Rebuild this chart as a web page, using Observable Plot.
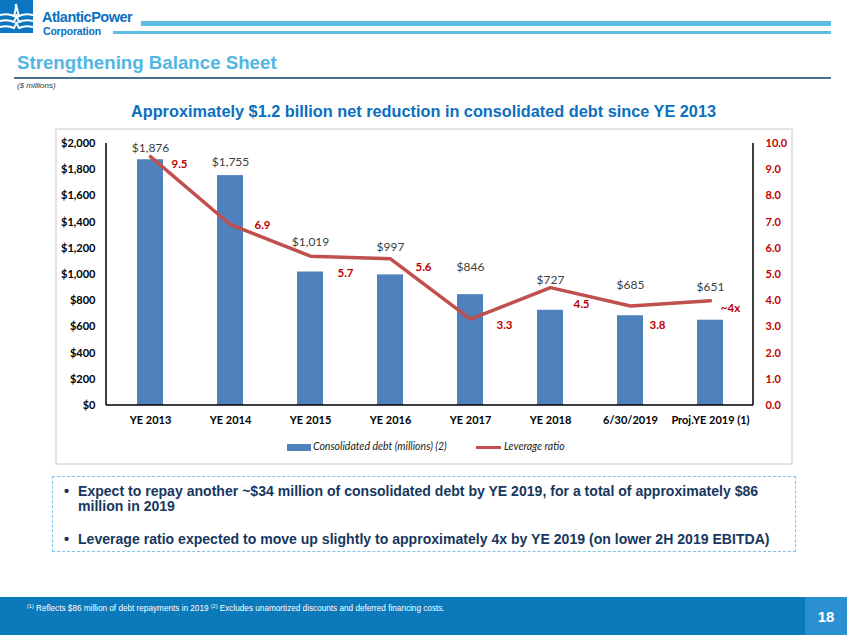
<!DOCTYPE html>
<html><head><meta charset="utf-8">
<script src="https://cdn.jsdelivr.net/npm/d3@7"></script>
<script src="https://cdn.jsdelivr.net/npm/@observablehq/plot@0.6"></script>
<style>
body{margin:0;background:#fff;}
#page{position:relative;width:847px;height:635px;overflow:hidden;font-family:"Liberation Sans",Arial,sans-serif;background:#fff;}
.abs{position:absolute;white-space:nowrap;}
#title{left:17px;top:52px;font-size:18.7px;font-weight:bold;color:#52b6e2;}
#rule{left:14px;top:77px;width:817px;height:1.5px;background:#4f6f8f;}
#units{left:17px;top:81px;font-size:8px;font-style:italic;color:#333;}
#ctitle{left:0;width:847px;top:102px;text-align:center;font-size:16.3px;font-weight:bold;color:#0b6fbf;}
#cbox{left:55px;top:128px;width:734px;height:333px;border:2px solid #e3e3e3;}
#chart{position:absolute;left:55px;top:128px;}
.leg{font-family:Lato,sans-serif;font-style:italic;font-size:10.5px;color:#222;top:440px;}
#bbox{left:52px;top:476px;width:742px;height:74px;border:1px dashed #7cc3e6;}
.bul{font-weight:bold;font-size:14.5px;color:#17375e;line-height:15px;transform-origin:0 0;}
.sq{transform:scaleX(0.97);}
#footer{left:0;top:597px;width:847px;height:38px;background:#0c79bb;}
#pgbox{left:805px;top:597px;width:42px;height:38px;background:#2a90cf;}
#fnote{left:27px;top:603px;font-size:8.2px;color:#fff;}
#fnote sup{font-size:5.5px;vertical-align:3px;}
#pgnum{left:805px;width:42px;text-align:center;top:608px;font-size:15px;font-weight:bold;color:#fff;}
</style></head><body>
<div id="page">
  <svg class="abs" style="left:0;top:0" width="34" height="34">
    <rect x="0" y="0" width="33" height="33" fill="#0b77c2"/>
    <path d="M0 15 Q8 13 14 16 Q16 10 16 4 Q17 10 19 16 Q25 13 33 15" fill="none" stroke="#fff" stroke-width="2"/>
    <path d="M0 21 Q8 19 14 22 Q16 18 16.5 14 Q17 18 19 22 Q25 19 33 21" fill="none" stroke="#fff" stroke-width="2"/>
    <path d="M0 27 Q8 25 14 28 Q16 25 16.5 22 Q17 25 19 28 Q25 25 33 27" fill="none" stroke="#fff" stroke-width="2"/>
  </svg>
  <div class="abs" style="left:42px;top:10px;font-size:14.5px;line-height:14px;font-weight:bold;color:#0b6fbf;letter-spacing:-0.5px;">AtlanticPower</div>
  <div class="abs" style="left:43px;top:26px;font-size:10.5px;line-height:10.5px;font-weight:bold;color:#0b6fbf;letter-spacing:-0.2px;">Corporation</div>
  <div class="abs" style="left:141px;top:21px;width:690px;height:5px;background:#5cbde5;"></div>
  <div class="abs" style="left:113px;top:31px;width:718px;height:3px;background:#5cbde5;"></div>
  <div id="title" class="abs">Strengthening Balance Sheet</div>
  <div id="rule" class="abs"></div>
  <div id="units" class="abs">($ millions)</div>
  <div id="ctitle" class="abs">Approximately $1.2 billion net reduction in consolidated debt since YE 2013</div>
  <div id="cbox" class="abs"></div>
  <div id="chart"></div>
  <div class="abs" style="left:287px;top:444px;width:24px;height:7px;background:#4f81bd;"></div>
  <div class="abs leg" style="left:313px;">Consolidated debt (millions) (2)</div>
  <div class="abs" style="left:476px;top:446px;width:25px;height:3px;background:#c0504d;"></div>
  <div class="abs leg" style="left:504px;">Leverage ratio</div>
  <div id="bbox" class="abs"></div>
  <div class="abs bul" style="left:64px;top:484px;">•</div>
  <div class="abs bul sq" style="left:78px;top:484px;">Expect to repay another ~$34 million of consolidated debt by YE 2019, for a total of approximately $86<br>million in 2019</div>
  <div class="abs bul" style="left:64px;top:532px;">•</div>
  <div class="abs bul sq" style="left:78px;top:532px;">Leverage ratio expected to move up slightly to approximately 4x by YE 2019 (on lower 2H 2019 EBITDA)</div>
  <div id="footer" class="abs"></div>
  <div id="pgbox" class="abs"></div>
  <div id="fnote" class="abs"><sup>(1)</sup> Reflects $86 million of debt repayments in 2019 <sup>(2)</sup> Excludes unamortized discounts and deferred financing costs.</div>
  <div id="pgnum" class="abs">18</div>
</div>
<script>
const categories = ["YE 2013", "YE 2014", "YE 2015", "YE 2016", "YE 2017", "YE 2018", "6/30/2019", "Proj.YE 2019 (1)"];
const debt = [1876, 1755, 1019, 997, 846, 727, 685, 651];
const leverage = [9.5, 6.9, 5.7, 5.6, 3.3, 4.5, 3.8, 4.0];
const leverageLabels = ["9.5", "6.9", "5.7", "5.6", "3.3", "4.5", "3.8", "~4x"];
const debtTicks = [0, 200, 400, 600, 800, 1000, 1200, 1400, 1600, 1800, 2000];

// label placement (pixels), like the hand-placed labels in the original
const debtLabelDy = [-12, -13, -30, -28, -28, -30, -31, -33];
const ratioLabelDx = [29, 32, 35, 33, 34, 31, 27, 20];
const ratioLabelDy = [8, 1, 17, 9, 6, 17, 19, 8];

const ratioScale = 200; // right axis 0–10 maps onto left axis 0–2000
const rows = categories.map((c, i) => ({cat: c, debt: debt[i], lev: leverage[i], levY: leverage[i] * ratioScale, levLabel: leverageLabels[i], debtLabel: "$" + d3.format(",")(debt[i])}));

const W = 736, H = 305;
const edges = (index, scales, values, dims) => {
  const g = d3.create("svg:g").attr("stroke", "#000").attr("stroke-width", 1.5);
  const l = dims.marginLeft, r = dims.width - dims.marginRight, t = dims.marginTop, b = dims.height - dims.marginBottom;
  g.append("line").attr("x1", l).attr("x2", l).attr("y1", t).attr("y2", b);
  g.append("line").attr("x1", r).attr("x2", r).attr("y1", t).attr("y2", b);
  g.append("line").attr("x1", l).attr("x2", r).attr("y1", b).attr("y2", b);
  return g.node();
};

const marks = [
  Plot.barY(rows, {x: "cat", y: "debt", fill: "#4f81bd"}),
  Plot.line(rows, {x: "cat", y: "levY", stroke: "#c0504d", strokeWidth: 3.5}),
  edges,
  Plot.axisY({anchor: "left", ticks: debtTicks, tickFormat: d => "$" + d3.format(",")(d), tickSize: 0, tickPadding: 11, fontWeight: "bold", fontSize: 11, label: null}),
  Plot.axisY({anchor: "right", ticks: debtTicks, tickFormat: d => (d / ratioScale).toFixed(1), tickSize: 0, tickPadding: 12, fontWeight: "bold", fontSize: 11, color: "#c00000", label: null}),
  Plot.axisX({tickSize: 0, tickPadding: 11, fontWeight: "bold", fontSize: 11, label: null})
];
rows.forEach((d, i) => {
  marks.push(Plot.text([d], {x: "cat", y: "debt", text: "debtLabel", dy: debtLabelDy[i], fill: "#404040", fontSize: 12}));
  marks.push(Plot.text([d], {x: "cat", y: "levY", text: "levLabel", dx: ratioLabelDx[i], dy: ratioLabelDy[i], fill: "#c00000", fontSize: 11.5, fontWeight: "bold"}));
});

const chart = Plot.plot({
  width: W, height: H,
  marginLeft: 51, marginRight: 38, marginTop: 15, marginBottom: 28,
  style: {fontFamily: "Lato, sans-serif", fontSize: "11px", color: "#000", background: "transparent"},
  x: {type: "band", domain: categories, paddingInner: 0.68, paddingOuter: 0.34, axis: null},
  y: {domain: [0, 2000], axis: null},
  marks
});
document.getElementById("chart").appendChild(chart);
</script>
</body></html>
